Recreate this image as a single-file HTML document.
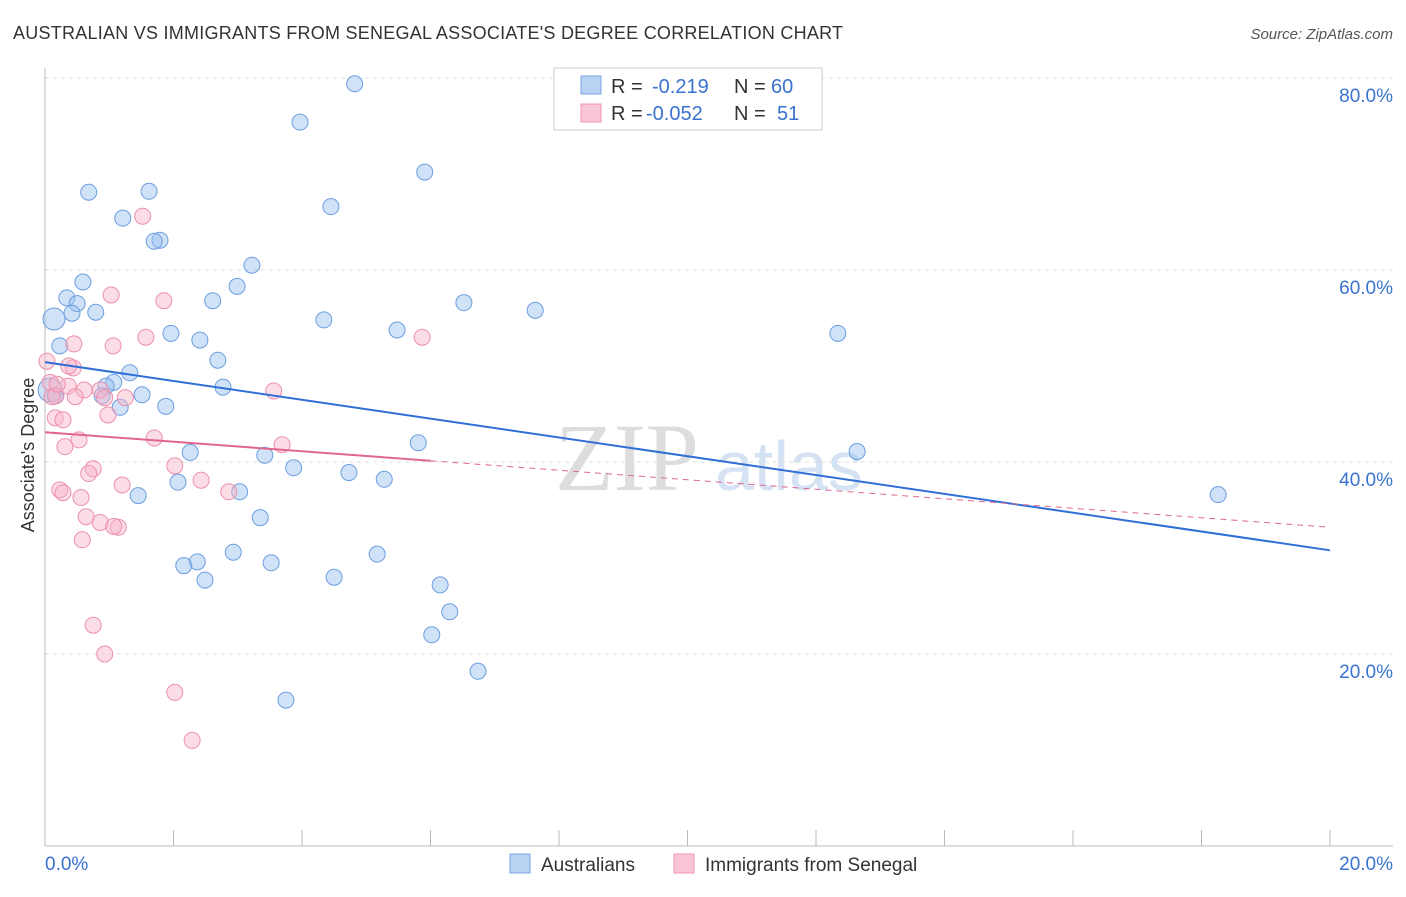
<!DOCTYPE html>
<html><head><meta charset="utf-8"><style>
body{margin:0;background:#fff;font-family:"Liberation Sans",sans-serif;}
</style></head><body>
<svg id="c" width="1406" height="892" xmlns="http://www.w3.org/2000/svg" style="font-family:'Liberation Sans',sans-serif">
<text x="13" y="39" font-size="18" fill="#333" textLength="830">AUSTRALIAN VS IMMIGRANTS FROM SENEGAL ASSOCIATE'S DEGREE CORRELATION CHART</text>
<text x="1393" y="39" font-size="15" fill="#555" text-anchor="end" font-style="italic">Source: ZipAtlas.com</text>
<text x="555" y="490" font-size="96" fill="#ddd" font-family="Liberation Serif">ZIP</text>
<text x="715" y="490" font-size="70" fill="#d5e2f3">atlas</text>
<g id="grid"></g><g id="axes"></g><g id="pts"></g><g id="lines"></g>
<text x="34" y="455" font-size="18" fill="#333" text-anchor="middle" transform="rotate(-90 34 455)">Associate's Degree</text>
<g>
<rect x="554" y="68" width="268" height="62" fill="#fff" stroke="#ccc"/>
<rect x="581" y="76" width="20" height="18" fill="#b8d2f4" stroke="#7aa6e0"/>
<rect x="581" y="104" width="20" height="18" fill="#f9c6d5" stroke="#ee94b0"/>
<text x="611" y="93" font-size="20" fill="#333">R = </text><text x="652" y="93" font-size="20" fill="#3a72d0">-0.219</text>
<text x="734" y="93" font-size="20" fill="#333">N = </text><text x="771" y="93" font-size="20" fill="#3a72d0">60</text>
<text x="611" y="120" font-size="20" fill="#333">R = </text><text x="646" y="120" font-size="20" fill="#3a72d0">-0.052</text>
<text x="734" y="120" font-size="20" fill="#333">N = </text><text x="777" y="120" font-size="20" fill="#3a72d0">51</text>
</g>
<g>
<rect x="510" y="854" width="20" height="19" fill="#b8d2f4" stroke="#7aa6e0"/>
<text x="541" y="871" font-size="19" fill="#333">Australians</text>
<rect x="674" y="854" width="20" height="19" fill="#f9c6d5" stroke="#ee94b0"/>
<text x="705" y="871" font-size="19" fill="#333">Immigrants from Senegal</text>
</g>
</svg>
<script>
const blueX=[4.82,3.97,5.91,0.68,1.62,4.45,1.21,1.79,1.70,3.22,0.59,2.99,0.34,2.61,0.50,6.52,7.63,0.79,0.42,0.14,4.34,5.48,1.96,2.41,12.34,0.23,2.69,1.32,1.07,0.95,2.77,1.51,0.89,1.88,1.17,5.81,12.64,2.26,3.42,3.87,4.73,5.28,2.07,3.03,1.45,18.26,3.35,2.93,5.17,2.37,2.16,3.52,2.49,4.50,6.15,6.30,6.02,6.74,3.75,0.08,0.16];
const blueY=[79.4,75.4,70.2,68.1,68.2,66.6,65.4,63.1,63.0,60.5,58.75,58.3,57.1,56.8,56.5,56.6,55.8,55.6,55.5,54.9,54.8,53.75,53.4,52.7,53.4,52.1,50.6,49.3,48.3,47.9,47.8,47.0,46.9,45.8,45.7,42.0,41.1,41.0,40.7,39.4,38.9,38.2,37.9,36.9,36.5,36.6,34.2,30.6,30.4,29.6,29.2,29.5,27.7,28.0,27.2,24.4,22.0,18.2,15.2,47.5,46.9];
const blueR=[8,8,8,8,8,8,8,8,8,8,8,8,8,8,8,8,8,8,8,11,8,8,8,8,8,8,8,8,8,8,8,8,8,8,8,8,8,8,8,8,8,8,8,8,8,8,8,8,8,8,8,8,8,8,8,8,8,8,8,12,8];
const pinkX=[1.52,1.03,1.85,1.06,1.57,5.87,0.45,0.03,0.44,0.37,0.08,0.36,0.86,3.56,0.17,0.61,0.93,0.47,1.25,0.98,0.16,0.28,1.70,0.53,0.31,3.69,2.02,0.75,0.68,2.43,1.20,0.23,2.86,0.28,0.56,0.64,0.86,1.14,1.07,0.58,0.75,0.93,2.02,2.29,0.11,0.19];
const pinkY=[65.6,57.4,56.8,52.1,53.0,53.0,52.3,50.5,49.8,50.0,48.3,47.9,47.5,47.4,46.9,47.5,46.7,46.8,46.7,44.9,44.6,44.4,42.5,42.3,41.6,41.8,39.6,39.3,38.8,38.1,37.6,37.1,36.9,36.8,36.3,34.3,33.7,33.2,33.3,31.9,23.0,20.0,16.0,11.0,46.8,48.1];
const trendBlue=[50.4,30.8];
const trendPink=[43.1,33.2];
const xTicks=["0.0%","20.0%"];
const yTicks=[20,40,60,80];
const NS="http://www.w3.org/2000/svg";
const X=v=>45+v/20*1285, Y=v=>846-v*9.6;
function mk(p,t,a){const e=document.createElementNS(NS,t);for(const k in a)e.setAttribute(k,a[k]);document.getElementById(p).appendChild(e);return e;}
yTicks.forEach(t=>{
 const l=mk('grid','line',{x1:45,x2:1393,y1:Y(t),y2:Y(t),stroke:'#ddd','stroke-dasharray':'4,4'});
 
 
 const tx=mk('grid','text',{x:1393,y:Y(t)+24,'font-size':19,fill:'#3a72d0','text-anchor':'end'});tx.textContent=t.toFixed(1)+'%';
 
 
});
mk('axes','line',{x1:45,x2:45,y1:68,y2:846,stroke:'#bbb'});
mk('axes','line',{x1:45,x2:1393,y1:846,y2:846,stroke:'#bbb'});
for(let i=0;i<=10;i++){const t=mk('axes','line',{x1:X(i*2),x2:X(i*2),y1:830,y2:846,stroke:'#bbb'});
 
 }
[[0,'start',45],[1,'end',1393]].forEach(([i,a,x])=>{const t=mk('axes','text',{x:x,y:870,'font-size':19,fill:'#3a72d0','text-anchor':a});t.textContent=xTicks[i];
 
 });
blueX.forEach((v,i)=>{const c=mk('pts','circle',{cx:X(v),cy:Y(blueY[i]),r:blueR[i],fill:'rgba(150,190,240,0.45)',stroke:'#6c9ee0','stroke-width':1});
 
 });
pinkX.forEach((v,i)=>{const c=mk('pts','circle',{cx:X(v),cy:Y(pinkY[i]),r:8,fill:'rgba(248,180,200,0.45)',stroke:'#ec8fab','stroke-width':1});
 
 });
const bl=mk('lines','line',{x1:X(0),y1:Y(trendBlue[0]),x2:X(20),y2:Y(trendBlue[1]),stroke:'#2f6fd6','stroke-width':2});


const pm=v=>trendPink[0]+(trendPink[1]-trendPink[0])*v/20;
const ps=mk('lines','line',{x1:X(0),y1:Y(pm(0)),x2:X(6),y2:Y(pm(6)),stroke:'#e0668f','stroke-width':2});


const pd=mk('lines','line',{x1:X(6),y1:Y(pm(6)),x2:X(20),y2:Y(pm(20)),stroke:'#e0668f','stroke-width':1,'stroke-dasharray':'6,5'});


</script>
</body></html>
